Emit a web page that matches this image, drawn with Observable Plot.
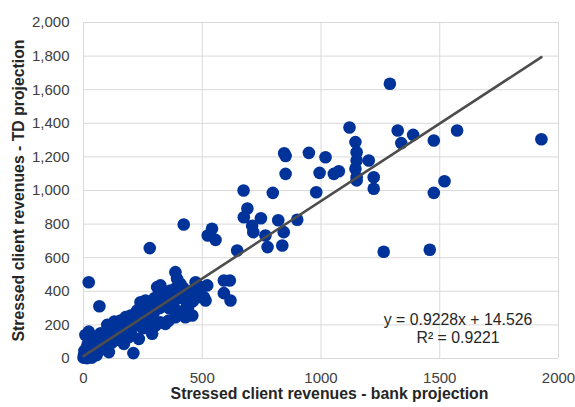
<!DOCTYPE html>
<html>
<head>
<meta charset="utf-8">
<script src="https://cdn.jsdelivr.net/npm/d3@7"></script>
<script src="https://cdn.jsdelivr.net/npm/@observablehq/plot@0.6"></script>
<style>
  html, body { margin: 0; padding: 0; background: #fff; }
  #chart { width: 575px; height: 407px; }
</style>
</head>
<body>
<div id="chart"></div>
<script>
// ---- Data ----
const bankProjection = [
  0,2,4,6,10,12,15,18,20,25,28,30,35,38,40,45,50,55,60,22,8,72,65,80,85,95,100,107,110,120,130,140,150,
  156,177,198,163,191,170,160,180,200,215,226,240,261,275,247,282,303,233,250,289,260,230,295,
  310,324,338,366,352,380,359,324,345,320,340,300,360,387,394,408,422,436,429,458,387,410,440,400,380,420,450,470,
  472,493,521,507,479,514,490,460,591,616,591,619,
  100,120,130,190,210,220,250,270,330,350,370,390,300,280,240,170,140,110,90,60,
  22,67,210,279,422,541,523,556,647,
  674,690,675,747,710,715,766,775,820,837,843,900,797,845,851,949,1019,851,994,1054,1075,980,
  1145,1150,1150,1145,1150,1150,1201,1222,1222,1120,
  1264,1458,1475,1520,1475,1573,1388,1323,1338,1290,1928
];
const tdProjection = [
  5,20,45,10,30,60,2,85,40,20,110,65,5,95,40,130,70,20,100,160,140,150,45,120,70,100,60,38,140,95,120,160,110,
  226,246,256,177,127,87,140,180,160,200,286,335,345,306,236,206,196,117,180,147,260,230,270,
  425,435,385,405,345,306,226,216,206,300,330,330,300,514,474,444,365,325,246,256,246,280,300,360,400,420,380,420,
  454,425,435,365,365,345,400,340,464,464,389,345,
  200,180,220,230,250,270,300,280,370,390,350,420,360,330,270,200,200,170,150,120,
  454,311,32,657,798,772,732,706,643,
  1000,893,841,835,790,752,732,663,823,673,752,826,986,1222,1205,1224,1198,1099,1105,1099,1115,990,
  1288,1228,1179,1129,1079,1060,1179,1079,1010,1375,
  635,647,986,1055,1298,1357,1331,1357,1282,1635,1305
];
const xTicks = [0, 500, 1000, 1500, 2000];
const yTicks = [0, 200, 400, 600, 800, 1000, 1200, 1400, 1600, 1800, 2000];
const trendSlope = 0.9228;
const trendIntercept = 14.526;
const equationLabel = "y = 0.9228x + 14.526";
const r2Label = "R² = 0.9221";
const xTitle = "Stressed client revenues - bank projection";
const yTitle = "Stressed client revenues - TD projection";

// ---- Build tables ----
const points = bankProjection.map((x, i) => ({x, y: tdProjection[i]}));
const xMin = d3.min(bankProjection), xMax = d3.max(bankProjection);
const trend = [xMin, xMax].map(x => ({x, y: trendSlope * x + trendIntercept}));

const chart = Plot.plot({
  width: 575,
  height: 407,
  marginLeft: 83,
  marginRight: 17,
  marginTop: 22,
  marginBottom: 49,
  x: {domain: [0, 2000]},
  y: {domain: [0, 2000]},
  style: {fontFamily: "'Liberation Sans', Arial, sans-serif", fontSize: "15px", color: "#404040", background: "#fff"},
  marks: [
    Plot.gridX(xTicks, {stroke: "#d9d9d9", strokeOpacity: 1, strokeWidth: 1}),
    Plot.gridY(yTicks, {stroke: "#d9d9d9", strokeOpacity: 1, strokeWidth: 1}),
    Plot.axisX(xTicks, {tickSize: 0, tickPadding: 14, tickFormat: d => String(d), label: null, fontSize: 15, fill: "#404040"}),
    Plot.axisY(yTicks, {tickSize: 0, tickPadding: 14, tickFormat: d3.format(","), label: null, fontSize: 15, fill: "#404040"}),
    Plot.dot(points, {x: "x", y: "y", r: 6.3, fill: "#003399", stroke: null}),
    Plot.line(trend, {x: "x", y: "y", stroke: "#4d4d4d", strokeWidth: 2.6}),
    Plot.text([equationLabel + "\n" + r2Label], {x: 1577, y: 179, textAnchor: "middle", lineAnchor: "middle", lineHeight: 1.14, fontSize: 15.8, fill: "#262626"}),
    Plot.text([xTitle], {frameAnchor: "bottom", dx: 8.5, dy: 40, textAnchor: "middle", fontSize: 15.8, fontWeight: "bold", fill: "#262626"}),
    Plot.text([yTitle], {frameAnchor: "left", dx: -65, rotate: -90, textAnchor: "middle", fontSize: 15.8, fontWeight: "bold", fill: "#262626"})
  ]
});
document.getElementById("chart").appendChild(chart);
</script>
</body>
</html>
